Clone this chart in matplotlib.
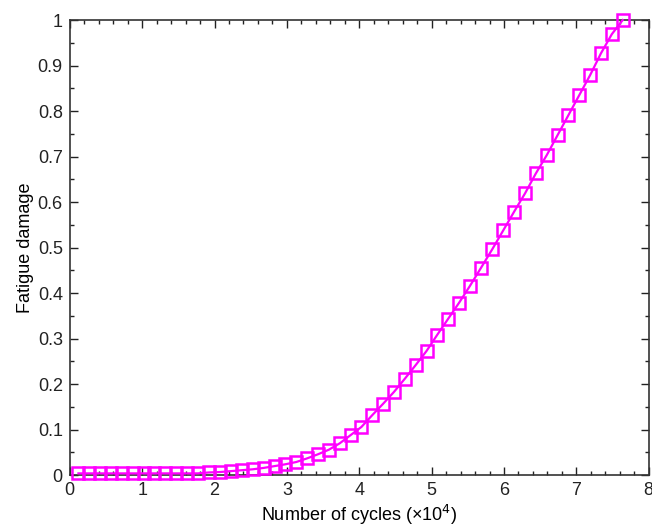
import matplotlib
matplotlib.use('Agg')
import matplotlib.pyplot as plt
from matplotlib.ticker import MultipleLocator

# cycles (x 10^4) and fatigue damage
cycles = [0.12, 0.27, 0.42, 0.57, 0.72, 0.87, 1.02, 1.17, 1.32, 1.47,
          1.62, 1.77, 1.92, 2.08, 2.23, 2.38, 2.53, 2.68, 2.83, 2.98,
          3.13, 3.28, 3.43, 3.58, 3.73, 3.88, 4.03, 4.18, 4.33, 4.48,
          4.63, 4.78, 4.93, 5.08, 5.23, 5.38, 5.53, 5.68, 5.84, 5.99,
          6.14, 6.29, 6.44, 6.59, 6.74, 6.89, 7.04, 7.19, 7.34, 7.49, 7.64]
damage = [0.004, 0.004, 0.004, 0.004, 0.004, 0.004, 0.004, 0.004, 0.004, 0.004,
          0.004, 0.004, 0.006, 0.007, 0.009, 0.011, 0.013, 0.016, 0.020, 0.024,
          0.029, 0.037, 0.046, 0.056, 0.070, 0.088, 0.106, 0.132, 0.157, 0.183,
          0.212, 0.242, 0.273, 0.309, 0.344, 0.379, 0.416, 0.455, 0.497, 0.538,
          0.579, 0.619, 0.663, 0.703, 0.747, 0.791, 0.835, 0.879, 0.927, 0.969, 1.0]
ytick_labels = ['0', '0.1', '0.2', '0.3', '0.4', '0.5', '0.6', '0.7', '0.8', '0.9', '1']

plt.rcParams['font.family'] = ['Liberation Sans', 'DejaVu Sans']

fig = plt.figure(figsize=(6.52, 5.28), dpi=100)
ax = fig.add_axes([0.107, 0.100, 0.888, 0.862])

ax.plot(cycles, damage, color='#ff00ff', linewidth=1.6, marker='s',
        markersize=8.3, markerfacecolor='none', markeredgewidth=1.8,
        clip_on=False, zorder=3)

ax.set_xlim(0, 8)
ax.set_ylim(0, 1)
ax.xaxis.set_major_locator(MultipleLocator(1))
ax.xaxis.set_minor_locator(MultipleLocator(0.2))
ax.set_yticks([i / 10 for i in range(11)])
ax.set_yticklabels(ytick_labels)
ax.yaxis.set_minor_locator(MultipleLocator(0.05))

ax.tick_params(which='both', direction='in', top=True, right=True, colors='#222222',
               labelsize=13, width=1)
ax.tick_params(which='major', length=6, pad=5)
ax.tick_params(which='minor', length=3)
for s in ax.spines.values():
    s.set_color('#333333')
    s.set_linewidth(1.2)

ax.set_xlabel('Number of cycles (×10$^4$)', fontsize=13, labelpad=3)
ax.set_ylabel('Fatigue damage', fontsize=13, labelpad=3)

plt.savefig('out.png', dpi=100)
plt.close()
